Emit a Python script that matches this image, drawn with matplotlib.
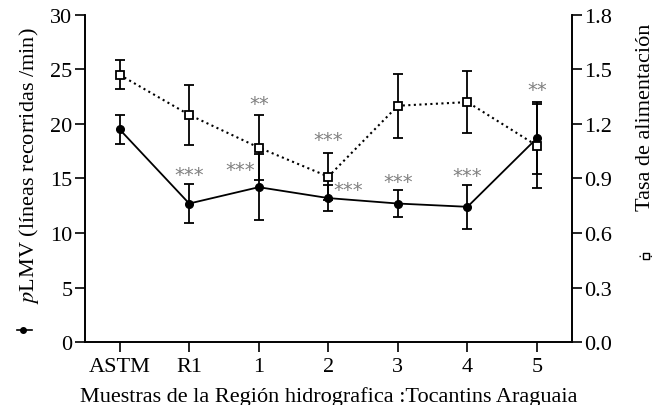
import matplotlib
matplotlib.use("Agg")
import matplotlib.pyplot as plt
from matplotlib.lines import Line2D

plt.rcParams["font.family"] = ["Liberation Serif", "DejaVu Serif"]
plt.rcParams["mathtext.fontset"] = "stix"

# data
samples = ["ASTM", "R1", "1", "2", "3", "4", "5"]
plmv = [19.5, 12.7, 14.2, 13.2, 12.7, 12.4, 18.7]
plmv_err = [1.3, 1.8, 3.0, 1.2, 1.2, 2.0, 3.3]
tasa = [1.47, 1.25, 1.07, 0.91, 1.30, 1.32, 1.08]
tasa_err = [0.08, 0.165, 0.18, 0.13, 0.175, 0.17, 0.23]

# significance marks: (x index, y on left axis, text)
sig_x = [1.0, 1.73, 2.0, 3.0, 3.28, 4.0, 5.0, 6.0]
sig_y = [15.6, 16.05, 22.1, 18.8, 14.2, 14.9, 15.5, 23.4]
sig_txt = ["***", "***", "**", "***", "***", "***", "***", "**"]

fig = plt.figure(figsize=(6.68, 4.06), dpi=100)
ax = fig.add_axes([0.127, 0.155, 0.729, 0.806])
ax2 = ax.twinx()

x = list(range(len(samples)))

ax.errorbar(x, plmv, yerr=plmv_err, color="black", linestyle="-", linewidth=1.3,
            marker="o", markersize=5.5, capsize=3.5, elinewidth=1.3, capthick=1.3, zorder=3)
ax2.errorbar(x, tasa, yerr=tasa_err, color="black", linestyle=":", linewidth=1.5,
             marker="s", markersize=5.2, markerfacecolor="white", markeredgewidth=1.3,
             ecolor="black", capsize=3.5, elinewidth=1.3, capthick=1.3, zorder=3)

for xi, yi, s in zip(sig_x, sig_y, sig_txt):
    # asterisks sit high in the glyph box, so nudge down a bit
    ax.text(xi, yi - 0.2, s, ha="center", va="center", color="#808080",
            fontsize=14, family="DejaVu Sans")

ax.set_xlim(-0.5, 6.5)
ax.set_ylim(0, 30)
ax2.set_ylim(0, 1.8)
ax.set_xticks(x)
ax.set_xticklabels(samples)
ax.set_yticks(range(0, 31, 5))
ax2.set_yticks([0.0, 0.3, 0.6, 0.9, 1.2, 1.5, 1.8])
ax2.set_yticklabels(["0.0", "0.3", "0.6", "0.9", "1.2", "1.5", "1.8"])

for a in (ax, ax2):
    a.spines["top"].set_visible(False)
    for sp in a.spines.values():
        sp.set_linewidth(1.2)
    a.tick_params(direction="out", length=7, width=1.2, labelsize=16, pad=2)
ax.tick_params(axis="x", pad=4)

ax.set_xlabel("Muestras de la Región hidrografica :Tocantins Araguaia", fontsize=16, labelpad=7)

# axis titles with their legend symbols
fig.text(29 / 668, 1 - 166 / 406, "$p$LMV (líneas recorridas /min)", rotation=90,
         ha="center", va="center", fontsize=16)
fig.add_artist(Line2D([17 / 668, 32 / 668], [1 - 331 / 406] * 2, color="black", linewidth=1.2))
fig.add_artist(Line2D([23 / 668], [1 - 331 / 406], color="black", marker="o", markersize=4))

fig.text(645 / 668, 1 - 117 / 406, "Tasa de alimentación", rotation=90,
         ha="center", va="center", fontsize=16)
fig.add_artist(Line2D([639 / 668, 653 / 668], [1 - 257 / 406] * 2, color="black",
                      linewidth=1.0, linestyle=":"))
fig.add_artist(Line2D([646 / 668], [1 - 257 / 406], color="black", marker="s", markersize=4,
                      markerfacecolor="white", markeredgewidth=1.0))

fig.savefig("out.png", dpi=100)
